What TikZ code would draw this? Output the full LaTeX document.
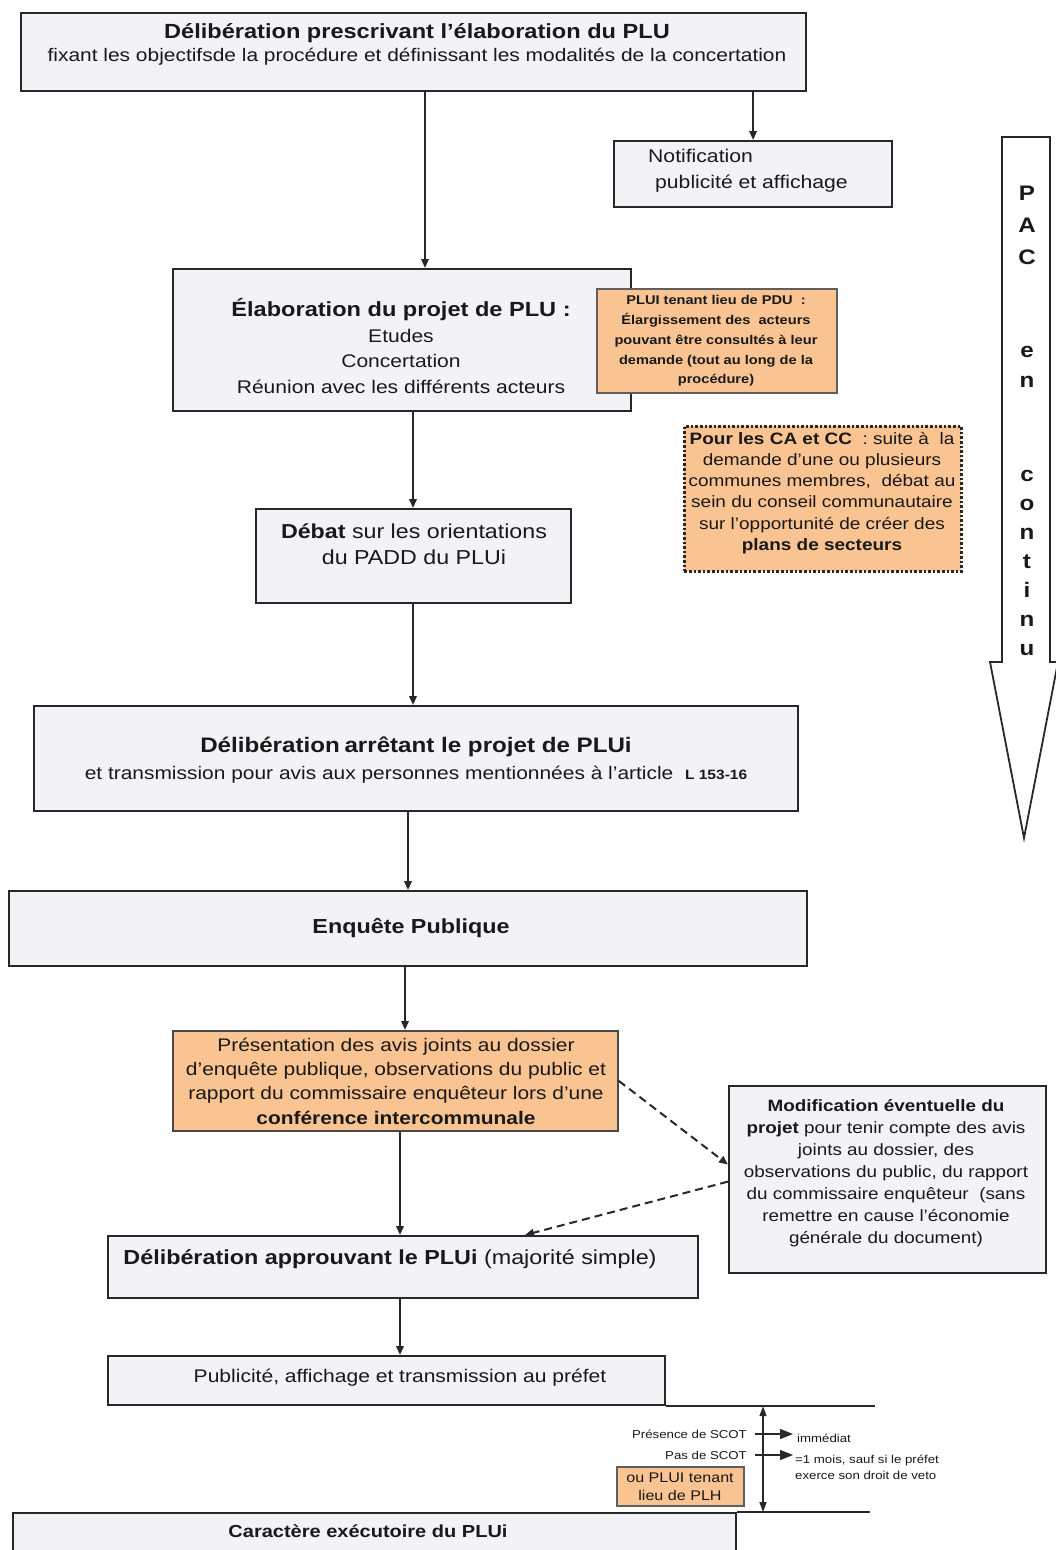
\documentclass[tikz,border=0pt]{standalone}
\usepackage{fontspec}
\setmainfont{Liberation Sans}[FakeStretch=1.15]
\usetikzlibrary{arrows.meta}
\definecolor{boxfill}{RGB}{243,242,246}
\definecolor{orangefill}{RGB}{249,196,146}
\definecolor{linec}{RGB}{40,40,40}
\definecolor{oline}{RGB}{95,95,95}
\definecolor{txtc}{RGB}{25,25,25}
\newcommand{\fsz}[2]{\fontsize{#1pt}{#2pt}\selectfont}
\begin{document}
\begin{tikzpicture}[x=1pt,y=-1pt,
 box/.style={draw=linec, line width=2.2pt, fill=boxfill, inner sep=0pt, anchor=north west},
 obox/.style={draw=oline, line width=1.8pt, fill=orangefill, inner sep=0pt, anchor=north west},
 txt/.style={text=txtc, inner sep=0pt, align=center},
 arr/.style={draw=linec, line width=2pt, -{Triangle[length=9pt,width=7.5pt]}},
 darr/.style={arr, dash pattern=on 8pt off 5pt},
 thin arr/.style={draw=linec, line width=1.4pt},
]
\fill[white] (0,0) rectangle (1056,1550);
\useasboundingbox (0,0) rectangle (1056,1550);

% helper coordinates for connector x-positions
\coordinate (xa) at (425,0);
\coordinate (xf) at (413,0);
\coordinate (xb) at (408,0);
\coordinate (xc) at (405,0);
\coordinate (xd) at (400,0);
\coordinate (xe) at (525,0);
\coordinate (xv) at (763,0);
\coordinate (xr1) at (875,0);
\coordinate (xr2) at (870,0);

% 1 top box
\node[box, minimum width=785pt, minimum height=78pt] (b1) at (20,12) {};
\node[txt, font=\fsz{18.2}{23}] (t1) at (417,44) {{\fsz{20.5}{23}\textbf{Délibération prescrivant l'élaboration du PLU}}\\fixant les objectifsde la procédure et définissant les modalités de la concertation};

% 2 notification
\node[box, minimum width=278pt, minimum height=66pt] (b2) at (613,140) {};
\node[txt, align=left, anchor=west, font=\fsz{18.4}{26}] (t2) at (648,171) {Notification\\\hspace*{7pt}publicité et affichage};

% 3 elaboration
\node[box, minimum width=458pt, minimum height=142pt] (b3) at (172,268) {};
\node[txt, font=\fsz{18.3}{25.5}] (t3) at (401,346) {{\fsz{20.5}{25.5}\textbf{Élaboration du projet de PLU :}}\\Etudes\\Concertation\\Réunion avec les différents acteurs};

% 4 PLUi PDU
\node[obox, minimum width=240pt, minimum height=104pt] (b4) at (596,288) {};
\node[txt, font=\fsz{12.7}{19.8}\bfseries] (t4) at (716,341) {PLUI tenant lieu de PDU\ \ :\\Élargissement des\ \ acteurs\\pouvant être consultés à leur\\demande\ (tout au long de la\\procédure)};

% 5 dotted box
\node[obox, draw=linec, line width=2.6pt, dash pattern=on 2.6pt off 2pt, minimum width=277pt, minimum height=145pt] (b5) at (683,425) {};
\node[txt, font=\fsz{16.5}{21.2}] (t5) at (822,493) {\textbf{Pour les CA et CC}\ \ : suite à\ \ la\\demande d'une ou plusieurs\\communes membres,\ \ débat au\\sein du conseil communautaire\\sur l'opportunité de créer des\\\textbf{plans de secteurs}};

% 6 debat
\node[box, minimum width=315pt, minimum height=94pt] (b6) at (255,508) {};
\node[txt, font=\fsz{20.2}{26}] (t6) at (414,544) {\textbf{Débat} sur les orientations\\du PADD du PLUi};

% 7 deliberation arretant
\node[box, minimum width=764pt, minimum height=105pt] (b7) at (33,705) {};
\node[txt, font=\fsz{18.2}{27}] (t7) at (416,760) {{\fsz{21}{27}\textbf{Délibération\hspace{-2pt} arrêtant le projet de PLUi}}\\et transmission pour avis aux personnes mentionnées à l'article\ \ {\fsz{13.5}{27}\textbf{L 153-16}}};

% 8 enquete
\node[box, minimum width=798pt, minimum height=75pt] (b8) at (8,890) {};
\node[txt, font=\fsz{20.3}{24}\bfseries] (t8) at (411,928) {Enquête Publique};

% 9 presentation
\node[obox, draw=linec!85, minimum width=445pt, minimum height=100pt] (b9) at (172,1030) {};
\node[txt, font=\fsz{18.2}{24.3}] (t9) at (396,1081) {Présentation des avis joints au dossier\\d'enquête publique, observations du public et\\rapport du commissaire enquêteur lors d'une\\\textbf{conférence intercommunale}};

% 10 modification
\node[box, minimum width=317pt, minimum height=187pt] (b10) at (728,1085) {};
\node[txt, font=\fsz{16.4}{22}] (t10) at (886,1173) {\textbf{Modification éventuelle du}\\\textbf{projet} pour tenir compte des avis\\joints au dossier, des\\observations du public, du rapport\\du commissaire enquêteur\ \ (sans\\remettre en cause l'économie\\générale du document)};

% 11 deliberation approuvant
\node[box, minimum width=590pt, minimum height=62pt] (b11) at (107,1235) {};
\node[txt, font=\fsz{20.3}{24}] (t11) at (390,1259) {\textbf{Délibération approuvant le PLUi} (majorité simple)};

% 12 publicite
\node[box, minimum width=557pt, minimum height=49pt] (b12) at (107,1355) {};
\node[txt, font=\fsz{18.3}{24}] (t12) at (400,1378) {Publicité, affichage et transmission au préfet};

% 13 caractere executoire
\node[box, minimum width=723pt, minimum height=52pt] (b13) at (12,1512) {};
\node[txt, font=\fsz{17.4}{22}\bfseries] (t13) at (368,1531) {Caractère exécutoire du PLUi};

% 14 PLH box
\node[obox, minimum width=127pt, minimum height=39pt] (b14) at (616,1466) {};
\node[txt, font=\fsz{14}{18}] (t14) at (680,1487) {ou PLUI tenant\\lieu de PLH};

% SCOT labels
\node[txt, anchor=east, font=\fsz{11.5}{14}] (s1) at (747,1434) {Présence de SCOT};
\node[txt, anchor=east, font=\fsz{11.5}{14}] (s2) at (747,1455) {Pas de SCOT};
\node[txt, anchor=west, font=\fsz{11.5}{14}] (s3) at (797,1438) {immédiat};
\node[txt, anchor=west, align=left, font=\fsz{11.5}{16}] (s4) at (795,1467) {=1 mois, sauf si le préfet\\exerce son droit de veto};
\coordinate (a1s) at (755,1434);
\coordinate (a1e) at (793,1434);
\coordinate (a2s) at (755,1455);
\coordinate (a2e) at (793,1455);
\draw[thin arr, -{Triangle[length=13pt,width=10pt]}] (a1s) -- (a1e);
\draw[thin arr, -{Triangle[length=13pt,width=10pt]}] (a2s) -- (a2e);

% horizontal rules and double arrow
\draw[draw=linec, line width=2pt] (b12.south east) -- (b12.south east -| xr1);
\draw[draw=linec, line width=2pt] (b13.north east) -- (b13.north east -| xr2);
\draw[thin arr, {Triangle[length=10pt,width=7pt]}-{Triangle[length=10pt,width=7pt]}] (b12.south east -| xv) -- (b13.north east -| xv);

% PAC arrow
\draw[draw=linec, line width=1.8pt, fill=white, line join=miter] (1002,137) -- (1050,137) -- (1050,662) -- (1058,662) -- (1024,838) -- (990,662) -- (1002,662) -- cycle;
\node[txt, font=\fsz{21}{32}\bfseries] (p1) at (1027,225) {P\\A\\C};
\node[txt, font=\fsz{21}{30}\bfseries] (p2) at (1027,367) {e\\n};
\node[txt, font=\fsz{21}{29}\bfseries] (p3) at (1027,563) {c\\o\\n\\t\\i\\n\\u};

% connectors
\draw[arr] (b1.south -| xa) -- (b3.north -| xa);
\draw[arr] (b1.south -| b2.north) -- (b2.north);
\draw[arr] (b3.south -| xf) -- (b6.north -| xf);
\draw[arr] (b6.south -| xf) -- (b7.north -| xf);
\draw[arr] (b7.south -| xb) -- (b8.north -| xb);
\draw[arr] (b8.south -| xc) -- (b9.north -| xc);
\draw[arr] (b9.south -| xd) -- (b11.north -| xd);
\draw[arr] (b11.south -| xd) -- (b12.north -| xd);
\draw[darr] (b9.east) -- ([yshift=15pt]b10.west);
\draw[darr] ([yshift=-2pt]b10.west) -- (b11.north -| xe);
\end{tikzpicture}
\end{document}
